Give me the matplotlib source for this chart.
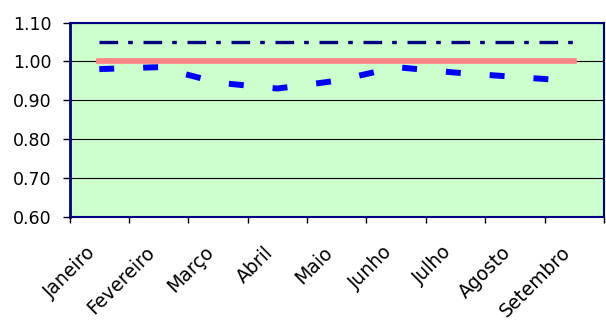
import matplotlib
matplotlib.use("Agg")
import matplotlib.pyplot as plt
import matplotlib.transforms as mtransforms
import numpy as np

# ---- data ----
months = ["Janeiro", "Fevereiro", "Março", "Abril", "Maio", "Junho",
          "Julho", "Agosto", "Setembro"]
indice = [0.980, 0.985, 0.945, 0.930, 0.950, 0.985, 0.971, 0.960, 0.949]
meta = [1.05] * 9
referencia = [1.00] * 9
yticks = [0.60, 0.70, 0.80, 0.90, 1.00, 1.10]

plt.rcParams['font.family'] = ['DejaVu Sans']

W, H = 606, 322
fig = plt.figure(figsize=(W / 100, H / 100), dpi=100)
left, right, top, bottom = 69.6, 604.0, 22.5, 216.7
ax = fig.add_axes([left / W, 1 - bottom / H, (right - left) / W, (bottom - top) / H])
ax.set_facecolor('#CCFFCC')

x = np.arange(len(months))

# blue dashed index line
ax.plot(x, indice, color='#0000FF', lw=4.3, dashes=(2.5, 4.85),
        dash_capstyle='butt', zorder=3, clip_on=False)
# red reference line
ax.plot(x, referencia, color='#FF8585', lw=4.1, solid_capstyle='projecting',
        zorder=4)
# navy dash-dot target line
ax.plot(x, meta, color='#000080', lw=2.4, dashes=(5.6, 3.0, 1.4, 3.2),
        dash_capstyle='butt', zorder=5)

ax.set_xlim(-0.5, len(months) - 0.5)
ax.set_ylim(0.6, 1.1)
ax.set_yticks(yticks)
ax.set_yticklabels([f"{v:.2f}" for v in yticks])
ax.yaxis.grid(True, color='black', lw=0.8, zorder=1)
ax.set_axisbelow(True)

# boundary ticks (major, no labels) and category labels (minor)
ax.set_xticks(np.arange(-0.5, len(months), 1.0))
ax.set_xticklabels([])
ax.set_xticks(x, labels=months, minor=True)
ax.tick_params(axis='x', which='major', length=4.5, width=1, color='black')
ax.tick_params(axis='x', which='minor', length=0, pad=23.5, labelsize=13.5)
ax.tick_params(axis='y', length=5, width=1, pad=8, labelsize=12.5)

offset = mtransforms.ScaledTranslation(-5 / 72, 0, fig.dpi_scale_trans)
for lab in ax.get_xticklabels(minor=True):
    lab.set_rotation(45)
    lab.set_ha('right')
    lab.set_va('center')
    lab.set_rotation_mode('anchor')
    lab.set_transform(lab.get_transform() + offset)

for side, sp in ax.spines.items():
    sp.set_color('#000080')
    sp.set_linewidth(1.5)
ax.spines['left'].set_linewidth(2.0)

fig.savefig('out.png', dpi=100)
